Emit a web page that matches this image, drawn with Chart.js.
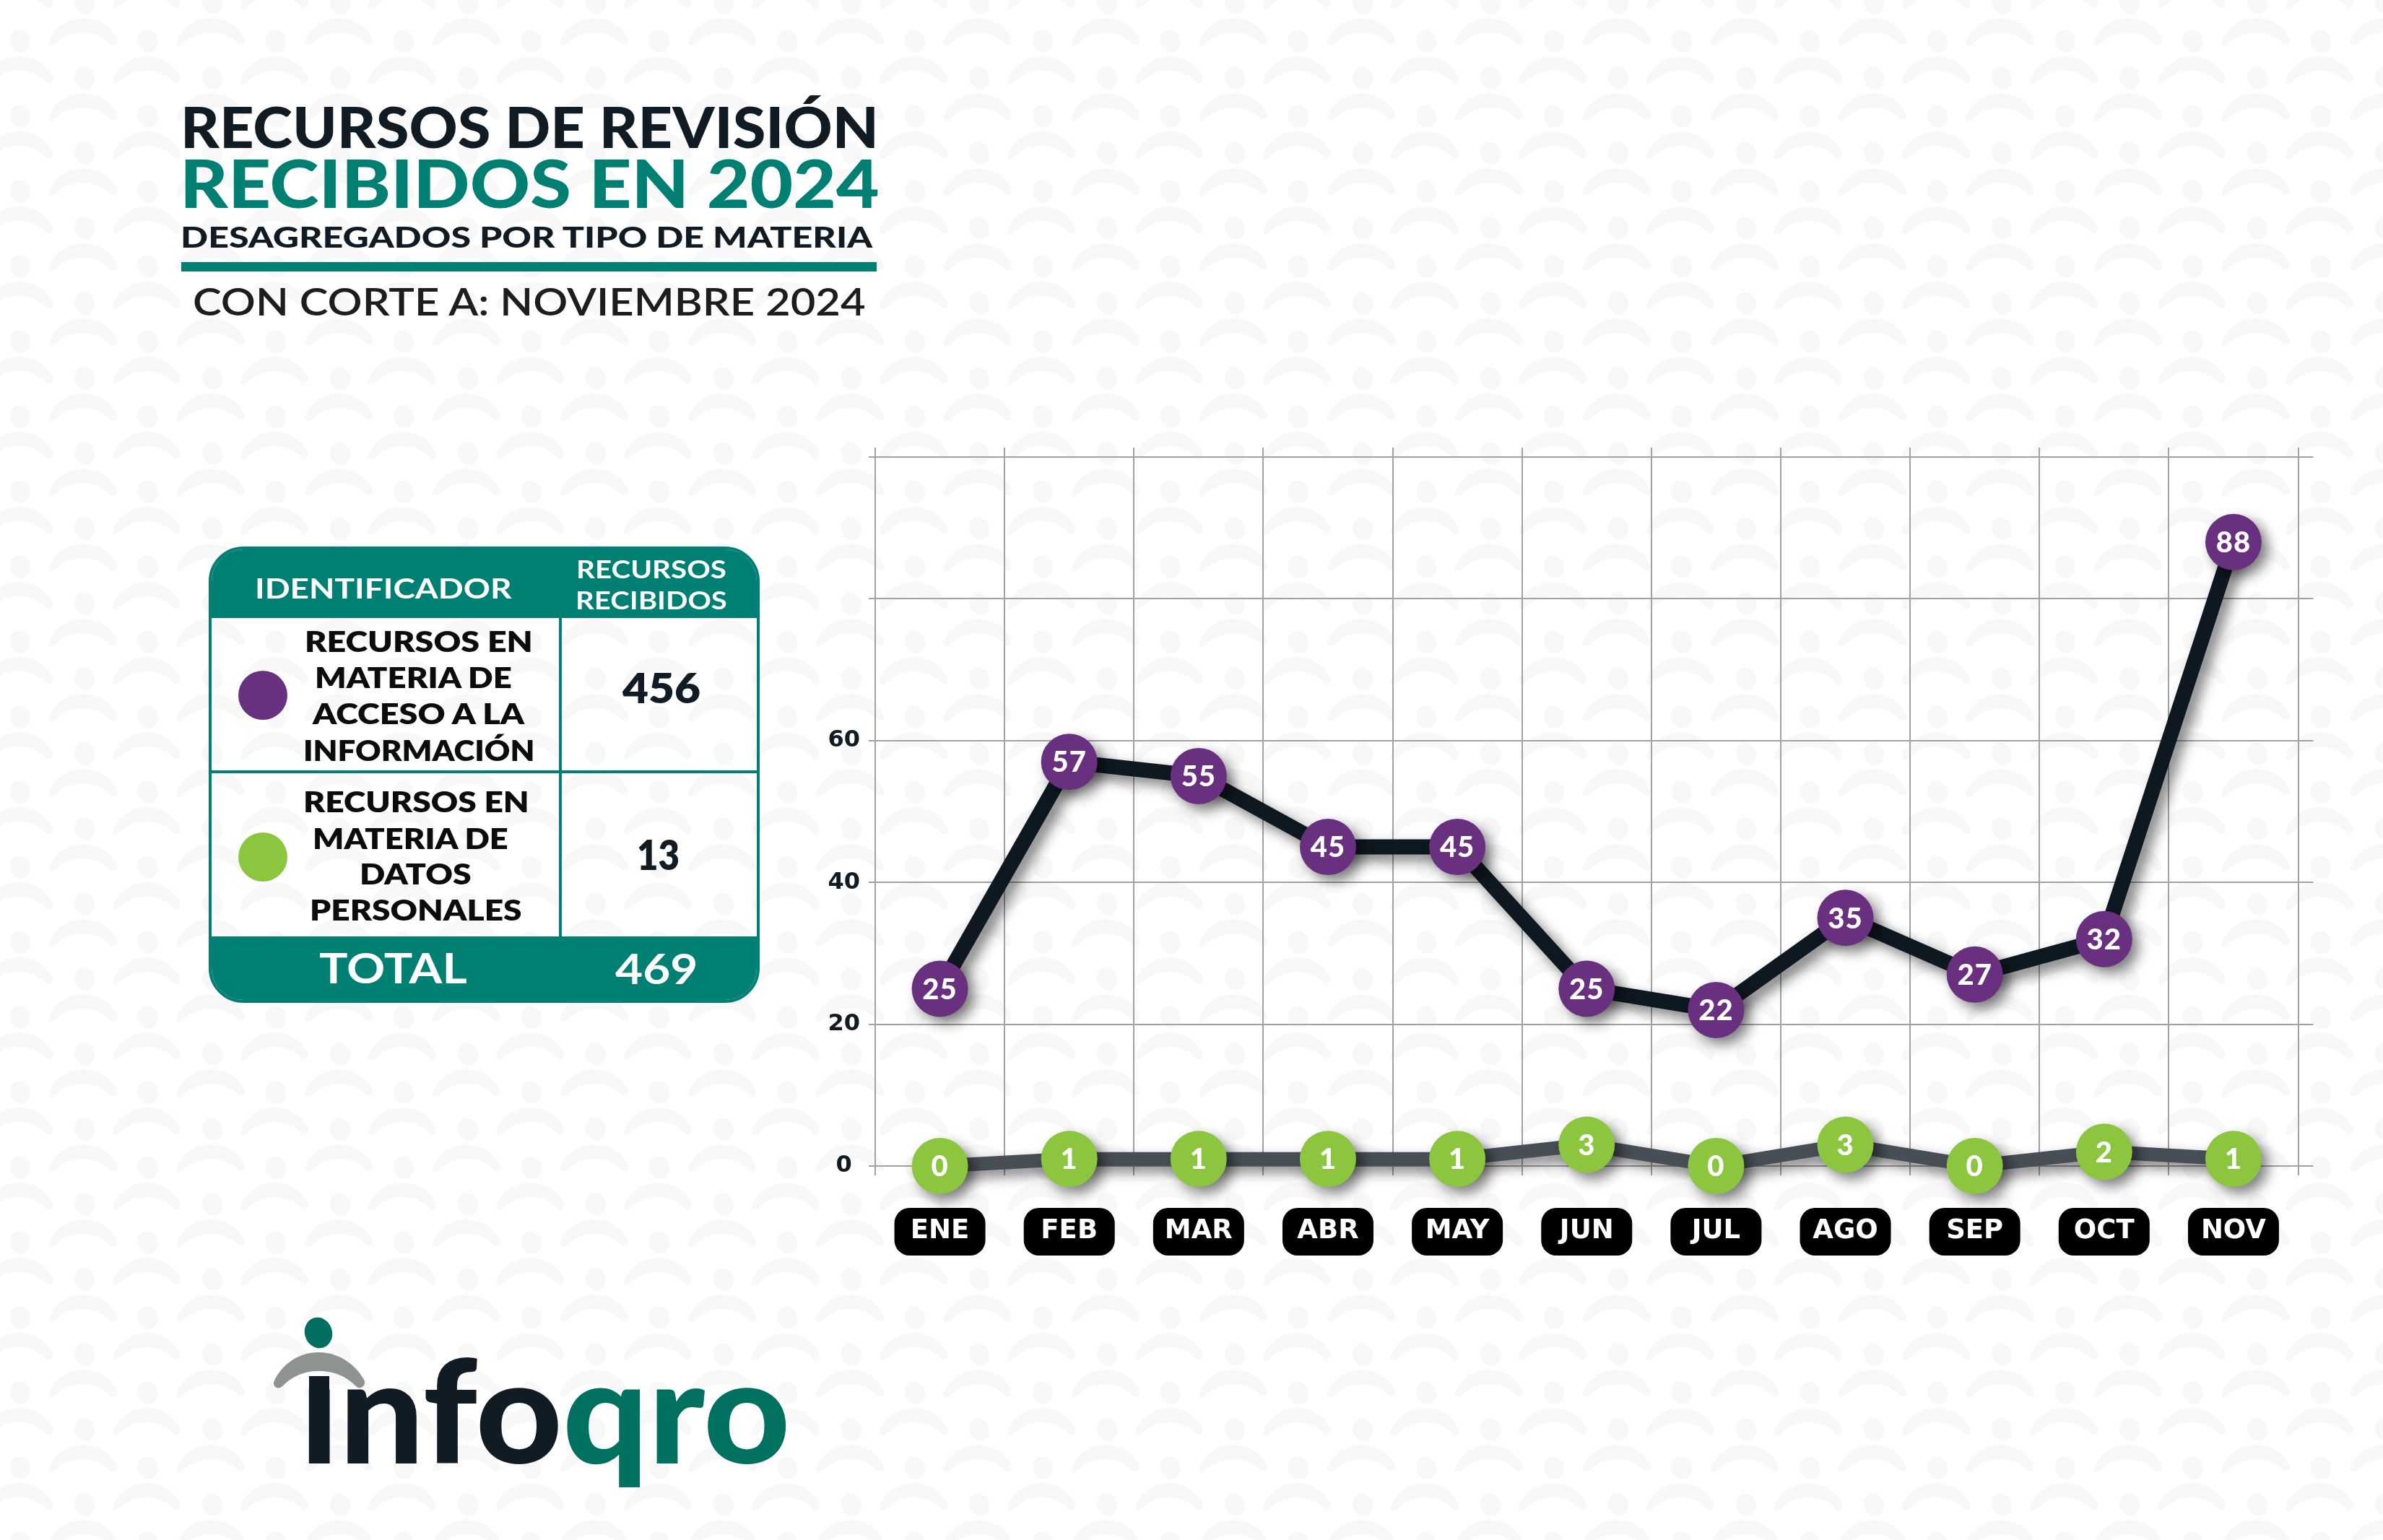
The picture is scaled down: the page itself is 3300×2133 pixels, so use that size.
<!DOCTYPE html>
<html lang="es"><head><meta charset="utf-8">
<script src="https://cdn.jsdelivr.net/npm/chart.js@4.4.1/dist/chart.umd.min.js"></script>
<style>
html,body{margin:0;padding:0;}
body{width:3300px;height:2133px;overflow:hidden;position:relative;background-color:#fff;}
#c{position:absolute;left:0;top:0;width:3300px;height:2133px;z-index:1;}
.t{position:absolute;white-space:nowrap;line-height:1;z-index:3;display:inline-block;transform-origin:0 0;font-family:Lato,"DejaVu Sans",sans-serif;}
.abs{position:absolute;z-index:2;}
#tbl{left:289px;top:757px;width:763px;height:632px;box-sizing:border-box;border:4px solid #007f73;border-radius:48px;overflow:hidden;}
#tbl .hd{position:absolute;left:0;top:0;width:100%;height:95px;background:#007f73;}
#tbl .ft{position:absolute;left:0;bottom:0;width:100%;height:88px;background:#007f73;}
#tbl .vd{position:absolute;left:481px;top:95px;width:4px;height:448px;background:#007f73;}
#tbl .hr{position:absolute;left:0;top:306px;width:100%;height:4px;background:#007f73;}
.dot{position:absolute;width:68px;height:68px;border-radius:50%;z-index:3;}
#logo{position:absolute;left:0;top:0;width:3300px;height:2133px;z-index:4;pointer-events:none;}
</style></head><body>
<canvas id="c" width="3300" height="2133"></canvas>

<div id="rule" class="abs" style="left:251px;top:363px;width:963px;height:13px;background:#007f73;"></div>
<div id="tbl" class="abs"><div class="hd"></div><div class="vd"></div><div class="hr"></div><div class="ft"></div></div>
<div class="dot" style="left:330px;top:929px;background:#69307f;"></div>
<div class="dot" style="left:330px;top:1153px;background:#8cc63f;"></div>

<svg id="logo" viewBox="0 0 3300 2133" xmlns="http://www.w3.org/2000/svg">
  <rect x="428" y="1906" width="28" height="30" fill="#111b23"/>
  <path d="M 380 1912 C 392 1888, 415 1873, 441 1873 C 468 1873, 492 1889, 504 1911 C 508 1919, 499 1926, 493 1920 C 478 1905, 462 1899, 441 1899 C 421 1899, 405 1906, 391 1920 C 385 1926, 376 1920, 380 1912 Z" fill="#8f9293"/>
  <ellipse cx="441" cy="1846" rx="19" ry="21.5" transform="rotate(-18 441 1846)" fill="#006f60"/>
</svg>

<script>
// ---------------- chart data ----------------
const months = ['ENE','FEB','MAR','ABR','MAY','JUN','JUL','AGO','SEP','OCT','NOV'];
const accesoInformacion = [25,57,55,45,45,25,22,35,27,32,88];
const datosPersonales = [0,1,1,1,1,3,0,3,0,2,1];
const yLabeledTicks = [0,20,40,60];
const yMax = 100;
const yStep = 20;

// table values
const tableRows = [
  {lines:['RECURSOS EN','MATERIA DE','ACCESO A LA','INFORMACIÓN'], value:'456'},
  {lines:['RECURSOS EN','MATERIA DE','DATOS','PERSONALES'], value:'13'}
];
const tableTotal = '469';

const DARK = '#111b24';
const TEAL = '#007f73';
const GRID = '#a2a2a2';

// ---------------- background pattern ----------------
(function(){
  const TW = 177, TH = 104;
  const base = [[115,43],[26,96]];
  let s = '';
  function icon(cx, cy){
    return `<path d="M ${cx-47} ${cy+14} C ${cx-38} ${cy-8}, ${cx-18} ${cy-18}, ${cx} ${cy-18} C ${cx+20} ${cy-18}, ${cx+40} ${cy-7}, ${cx+47} ${cy+12} C ${cx+49} ${cy+18}, ${cx+42} ${cy+22}, ${cx+37} ${cy+17} C ${cx+26} ${cy+6}, ${cx+14} ${cy+2}, ${cx} ${cy+2} C ${cx-15} ${cy+2}, ${cx-27} ${cy+7}, ${cx-38} ${cy+18} C ${cx-43} ${cy+22}, ${cx-49} ${cy+20}, ${cx-47} ${cy+14} Z"/>`+
      `<ellipse cx="${cx+2}" cy="${cy-39}" rx="14" ry="16" transform="rotate(-20 ${cx+2} ${cy-39})"/>`;
  }
  for (const [bx,by] of base) for (const dx of [-TW,0,TW]) for (const dy of [-TH,0,TH]) s += icon(bx+dx, by+dy);
  const svg = `<svg xmlns="http://www.w3.org/2000/svg" width="${TW}" height="${TH}"><g fill="#f8f8f8">${s}</g></svg>`;
  document.body.style.backgroundImage = `url("data:image/svg+xml,${encodeURIComponent(svg)}")`;
})();

// ---------------- html text placement ----------------
const mctx = document.createElement('canvas').getContext('2d');
function placeText(o){
  const d = document.createElement('div');
  d.className = 't';
  d.style.fontWeight = o.w;
  d.style.fontSize = o.fs + 'px';
  d.style.color = o.c || DARK;
  if (o.html) d.innerHTML = o.html; else d.textContent = o.t;
  const probe = document.createElement('span');
  probe.style.cssText = 'display:inline-block;width:0;height:0;vertical-align:baseline;';
  d.appendChild(probe);
  d.style.left = '0px'; d.style.top = '0px';
  document.body.appendChild(d);
  const r = d.getBoundingClientRect();
  const pr = probe.getBoundingClientRect();
  const baseOff = pr.bottom - r.top;
  mctx.font = `${o.w} ${o.fs}px Lato, "DejaVu Sans", sans-serif`;
  const m = mctx.measureText(o.t);
  const inkStart = -m.actualBoundingBoxLeft;
  const inkW = m.actualBoundingBoxRight + m.actualBoundingBoxLeft;
  const sx = (o.x1 - o.x0) / inkW;
  d.style.transform = `scaleX(${sx})`;
  d.style.left = (o.x0 - inkStart * sx) + 'px';
  d.style.top = (o.base - baseOff) + 'px';
}

const texts = [
  {t:'RECURSOS DE REVISIÓN', x0:255, x1:1211, base:205, fs:78, w:900, c:DARK},
  {t:'RECIBIDOS EN 2024', x0:256, x1:1216, base:288, fs:91, w:900, c:TEAL},
  {t:'DESAGREGADOS POR TIPO DE MATERIA', x0:253, x1:1211, base:343, fs:39, w:900, c:DARK},
  {t:'CON CORTE A: NOVIEMBRE 2024', x0:269, x1:1199, base:437, fs:52, w:600, c:'#1d1d1b'},
  {t:'IDENTIFICADOR', x0:357, x1:710, base:829, fs:39, w:700, c:'#fff'},
  {t:'RECURSOS', x0:800, x1:1005, base:801, fs:33.5, w:700, c:'#fff'},
  {t:'RECIBIDOS', x0:799, x1:1006, base:844, fs:33.5, w:700, c:'#fff'},
  {t:tableRows[0].lines[0], x0:424, x1:735, base:903, fs:40, w:800, c:'#0c0c0c'},
  {t:tableRows[0].lines[1], x0:438, x1:709, base:952.5, fs:40, w:800, c:'#0c0c0c'},
  {t:tableRows[0].lines[2], x0:432, x1:730, base:1003, fs:40, w:800, c:'#0c0c0c'},
  {t:tableRows[0].lines[3], x0:422, x1:738, base:1053.5, fs:40, w:800, c:'#0c0c0c'},
  {t:tableRows[1].lines[0], x0:422, x1:730, base:1125, fs:40, w:800, c:'#0c0c0c'},
  {t:tableRows[1].lines[1], x0:435, x1:704, base:1175.5, fs:40, w:800, c:'#0c0c0c'},
  {t:tableRows[1].lines[2], x0:500, x1:651, base:1225, fs:40, w:800, c:'#0c0c0c'},
  {t:tableRows[1].lines[3], x0:431, x1:721, base:1275, fs:40, w:800, c:'#0c0c0c'},
  {t:tableRows[0].value, x0:861, x1:969, base:973.5, fs:57, w:800, c:DARK},
  {t:tableRows[1].value, x0:883.5, x1:939, base:1205, fs:57, w:800, c:DARK},
  {t:'TOTAL', x0:442, x1:646, base:1362, fs:57, w:700, c:'#fff'},
  {t:tableTotal, x0:852, x1:964, base:1363, fs:57, w:700, c:'#fff'},
  {t:'ınfoqro', html:'<span style="color:#111b23">ınfo</span><span style="color:#00705f">qro</span>', x0:428, x1:1089, base:2027, fs:198, w:900}
];
texts.forEach(placeText);

// ---------------- chart plugins ----------------
const shadowPlugin = {
  id:'shadowPlugin',
  beforeDatasetDraw(chart){
    const ctx = chart.ctx; ctx.save();
    ctx.shadowColor = 'rgba(0,0,0,0.5)';
    ctx.shadowBlur = 18; ctx.shadowOffsetX = 9; ctx.shadowOffsetY = 9;
  },
  afterDatasetDraw(chart){ chart.ctx.restore(); }
};
const pillPlugin = {
  id:'pillPlugin',
  beforeDraw(chart){
    const x = chart.scales.x, ctx = chart.ctx;
    const cy = chart.chartArea.bottom + 91;
    ctx.save(); ctx.fillStyle = '#000';
    months.forEach((m,i)=>{
      const px = x.getPixelForValue(i);
      ctx.beginPath(); ctx.roundRect(px-63, cy-33, 126, 66, 21); ctx.fill();
    });
    ctx.restore();
  }
};
const gridExtPlugin = {
  id:'gridExtPlugin',
  beforeDatasetsDraw(chart){
    const {top,right} = chart.chartArea, ctx = chart.ctx;
    const x = chart.scales.x, y = chart.scales.y;
    const half = (x.getPixelForValue(1) - x.getPixelForValue(0)) / 2;
    ctx.save(); ctx.strokeStyle = GRID; ctx.lineWidth = 2;
    ctx.beginPath();
    for (let i = 0; i <= months.length; i++){
      const px = Math.round(x.getPixelForValue(0) - half + i*2*half);
      ctx.moveTo(px, top - 13); ctx.lineTo(px, top);
    }
    y.ticks.forEach(t=>{
      const py = Math.round(y.getPixelForValue(t.value));
      ctx.moveTo(right, py); ctx.lineTo(right + 21, py);
    });
    ctx.stroke(); ctx.restore();
  }
};
const valueLabelPlugin = {
  id:'valueLabelPlugin',
  afterDatasetsDraw(chart){
    const ctx = chart.ctx, fs = 40;
    ctx.save(); ctx.fillStyle = '#fff';
    ctx.font = `900 ${fs}px Lato, "DejaVu Sans", sans-serif`;
    ctx.letterSpacing = '1px';
    ctx.textAlign = 'center'; ctx.textBaseline = 'alphabetic';
    chart.data.datasets.forEach((ds,i)=>{
      chart.getDatasetMeta(i).data.forEach((pt,j)=>{
        ctx.fillText(String(ds.data[j]), pt.x, pt.y + fs*0.355);
      });
    });
    ctx.restore();
  }
};

new Chart(document.getElementById('c'), {
  type:'line',
  data:{
    labels: months,
    datasets:[
      {label:'Recursos en materia de acceso a la información', data:accesoInformacion,
       borderColor:'#0e1820', borderWidth:21, pointRadius:39, pointBackgroundColor:'#69307f',
       pointBorderWidth:0, tension:0, clip:false, borderCapStyle:'round', borderJoinStyle:'round'},
      {label:'Recursos en materia de datos personales', data:datosPersonales,
       borderColor:'#474e56', borderWidth:19, pointRadius:39, pointBackgroundColor:'#8cc63f',
       pointBorderWidth:0, tension:0, clip:false, borderCapStyle:'round', borderJoinStyle:'round'}
    ]
  },
  options:{
    responsive:false, devicePixelRatio:1, animation:false, events:[],
    layout:{padding:{left:1100, right:117.5, top:633, bottom:368}, autoPadding:false},
    plugins:{legend:{display:false}, tooltip:{enabled:false}, title:{display:false}},
    scales:{
      x:{type:'category', offset:true,
         grid:{offset:true, color:GRID, lineWidth:2, tickLength:13, drawTicks:true},
         border:{color:GRID, width:2},
         ticks:{color:'#fff', font:{family:'"DejaVu Sans", sans-serif', weight:'bold', size:37, lineHeight:1},
                padding:59, maxRotation:0, minRotation:0, autoSkip:false},
         afterFit(s){ s.height = 150; }},
      y:{min:0, max:yMax,
         grid:{color:GRID, lineWidth:2, tickLength:9},
         border:{color:GRID, width:2},
         ticks:{stepSize:yStep, callback:(v)=> yLabeledTicks.includes(v) ? String(v) : '',
                color:DARK, font:{family:'"DejaVu Sans", sans-serif', weight:'bold', size:32},
                padding:12, crossAlign:'center'},
         afterFit(s){ s.width = 112; }}
    }
  },
  plugins:[pillPlugin, gridExtPlugin, shadowPlugin, valueLabelPlugin]
});
</script>
</body></html>
